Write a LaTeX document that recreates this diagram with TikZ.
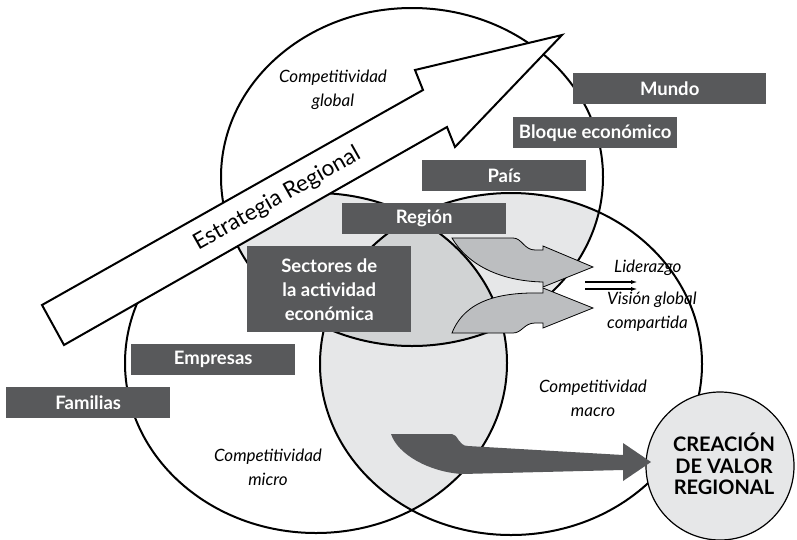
\documentclass[tikz,border=0pt]{standalone}
\usepackage{fontspec}
\setmainfont{Lato}
\usetikzlibrary{arrows.meta}
\definecolor{boxgrey}{HTML}{58595B}
\definecolor{lightzone}{HTML}{E6E7E8}
\definecolor{corezone}{HTML}{D1D3D4}
\definecolor{arrowgrey}{HTML}{BCBEC0}
\begin{document}
\begin{tikzpicture}[x=1pt,y=-1pt,
  ring/.style={draw=black,line width=2pt},
  tag/.style={fill=boxgrey,text=white,font=\bfseries\fontsize{18.5}{24}\selectfont,
    minimum width=164pt,minimum height=31pt,inner sep=0pt,anchor=north west,align=center},
  note/.style={font=\itshape\fontsize{17}{24}\selectfont,align=center,inner sep=0pt},
  curvedarrow/.style={fill=arrowgrey,draw=black,line width=0.8pt,line join=miter}]
\useasboundingbox (0,0) rectangle (797,539);

% shaded overlaps of the three spheres
\begin{scope}
  \clip (412,177) ellipse [x radius=191pt,y radius=169pt];
  \fill[lightzone] (316,363) ellipse [x radius=191pt,y radius=170pt];
  \fill[lightzone] (511,364) ellipse [x radius=191pt,y radius=171pt];
\end{scope}
\begin{scope}
  \clip (316,363) ellipse [x radius=191pt,y radius=170pt];
  \fill[lightzone] (511,364) ellipse [x radius=191pt,y radius=171pt];
\end{scope}
\begin{scope}
  \clip (412,177) ellipse [x radius=191pt,y radius=169pt];
  \clip (316,363) ellipse [x radius=191pt,y radius=170pt];
  \fill[corezone] (511,364) ellipse [x radius=191pt,y radius=171pt];
\end{scope}

% sphere outlines
\draw[ring] (412,177) ellipse [x radius=191pt,y radius=169pt];
\draw[ring] (316,363) ellipse [x radius=191pt,y radius=170pt];
\draw[ring] (511,364) ellipse [x radius=191pt,y radius=171pt];

% strategy arrow
\draw[fill=white,line width=2pt,line join=miter]
  (42,305) -- (423,90) -- (415,70) -- (562,35) -- (455,147) -- (447,127) -- (64,345) -- cycle;
\node[rotate=29.4,font=\fontsize{22.5}{24}\selectfont,inner sep=0pt] (estr) at (277,199) {Estrategia Regional};

% curved arrows towards leadership and shared vision
\draw[curvedarrow] (452,238) -- (513,238) .. controls (522,238) and (524,250) .. (535,250)
  -- (543,250) -- (543,246) -- (593,267) -- (543,287) -- (543,282)
  .. controls (500,281) and (468,265) .. (452,238) -- cycle;
\draw[curvedarrow] (452,333) -- (513,333) .. controls (522,333) and (524,323) .. (535,323)
  -- (543,323) -- (543,328) -- (593,308) -- (543,288) -- (543,293)
  .. controls (500,292) and (465,300) .. (452,333) -- cycle;

% value creation
\node[circle,draw=black,line width=1.2pt,fill=lightzone,minimum size=148pt,inner sep=0pt] (valor) at (720,466) {};
\node[font=\bfseries\fontsize{20}{21.5}\selectfont,align=center,inner sep=0pt] (valortxt) at (724,464)
  {CREACIÓN\\DE VALOR\\REGIONAL};
\fill[boxgrey] (391,434) -- (452,434) .. controls (458,434) and (458,446) .. (468,446)
  -- (623,455) -- (623,443) -- (651,462) -- (623,481) -- (623,470) -- (462,474)
  .. controls (430,472) and (398,455) .. (391,434) -- cycle;

% level labels
\node[tag,minimum width=193pt] (mundo) at (573,73) {Mundo};
\node[tag] (bloque) at (513,117) {Bloque económico};
\node[tag] (pais) at (422,160) {País};
\node[tag] (region) at (342,203) {Región};
\node[tag,minimum height=86pt] (sectores) at (247,246) {Sectores de\\la actividad\\económica};
\node[tag] (empresas) at (131,344) {Empresas};
\node[tag] (familias) at (6,387) {Familias};

% sphere captions
\node[note] (glob) at (333,90) {Competitividad\\global};
\node[note] (micro) at (268,467) {Competitividad\\micro};
\node[note] (macro) at (593,398) {Competitividad\\macro};
\node[note,anchor=west] (lider) at (614,268) {Liderazgo};
\node[note,anchor=north west,align=left] (vision) at (607,292) {Visión global\\compartida};

% double arrow
\coordinate (d1a) at (585,282); \coordinate (d1b) at (638,282);
\coordinate (d2a) at (585,289); \coordinate (d2b) at (638,289);
\draw[line width=1.8pt,-{Latex[length=7pt,width=4pt]}] (d1a) -- (d1b);
\draw[line width=1.8pt,-{Latex[length=7pt,width=4pt]}] (d2a) -- (d2b);
\end{tikzpicture}
\end{document}
